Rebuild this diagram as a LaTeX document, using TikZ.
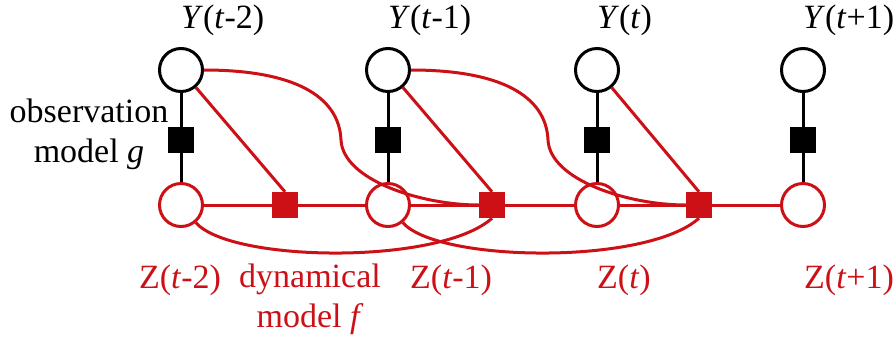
\documentclass[tikz,border=0pt]{standalone}
\usepackage{fontspec}
\setmainfont{Liberation Serif}
\definecolor{dred}{RGB}{204,16,22}
\begin{document}
\begin{tikzpicture}[x=1pt,y=-1pt,
  ycirc/.style={circle, draw=black, line width=3pt, minimum size=43pt, inner sep=0pt},
  zcirc/.style={circle, draw=dred, line width=3pt, minimum size=43pt, inner sep=0pt},
  bsq/.style={rectangle, fill=black, minimum size=26pt, inner sep=0pt},
  rsq/.style={rectangle, fill=dred, minimum size=26pt, inner sep=0pt},
  lab/.style={font=\fontsize{34}{40}\selectfont, inner sep=0pt},
  rlab/.style={lab, text=dred},
  bline/.style={draw=black, line width=3pt},
  rline/.style={draw=dred, line width=3pt}]
\useasboundingbox (0,0) rectangle (893,341);
% nodes
\node[ycirc] (y1) at (181,70) {};
\node[ycirc] (y2) at (388,70) {};
\node[ycirc] (y3) at (597,70) {};
\node[ycirc] (y4) at (803,70) {};
\node[zcirc] (z1) at (181,205) {};
\node[zcirc] (z2) at (388,205) {};
\node[zcirc] (z3) at (597,205) {};
\node[zcirc] (z4) at (803,205) {};
\node[bsq] (b1) at (181,140) {};
\node[bsq] (b2) at (388,140) {};
\node[bsq] (b3) at (597,140) {};
\node[bsq] (b4) at (803,140) {};
\node[rsq] (r1) at (285,205) {};
\node[rsq] (r2) at (492,205) {};
\node[rsq] (r3) at (699,205) {};
\coordinate (m1) at (341,140);
\coordinate (m2) at (548,140);
% labels
\node[lab, anchor=base west] (ly1) at (181,28) {\textit{Y}(\textit{t}-2)};
\node[lab, anchor=base west] (ly2) at (388,28) {\textit{Y}(\textit{t}-1)};
\node[lab, anchor=base west] (ly3) at (597,28) {\textit{Y}(\textit{t})};
\node[lab, anchor=base west] (ly4) at (803,28) {\textit{Y}(\textit{t}+1)};
\node[lab, anchor=base, align=center] (lobs) at (89,162) {observation\\model \textit{g}};
\node[rlab, anchor=base] (lz1) at (180,288) {Z(\textit{t}-2)};
\node[rlab, anchor=base west] (lz2) at (410,288) {Z(\textit{t}-1)};
\node[rlab, anchor=base west] (lz3) at (597,288) {Z(\textit{t})};
\node[rlab, anchor=base west] (lz4) at (804,288) {Z(\textit{t}+1)};
\node[rlab, anchor=base, align=center] (ldyn) at (310,327) {dynamical\\model \textit{f}};
% observation edges
\draw[bline] (y1) -- (b1) -- (z1);
\draw[bline] (y2) -- (b2) -- (z2);
\draw[bline] (y3) -- (b3) -- (z3);
\draw[bline] (y4) -- (b4) -- (z4);
% dynamical chain
\draw[rline] (z1) -- (r1) -- (z2) -- (r2) -- (z3) -- (r3) -- (z4);
\draw[rline] (y1) -- (r1.north);
\draw[rline] (y2) -- (r2.north);
\draw[rline] (y3) -- (r3.north);
\draw[rline] (y1.east) .. controls +(88,0) and +(-2,-45) .. (m1)
  .. controls +(2,40) and +(-58,0) .. (r2.west);
\draw[rline] (y2.east) .. controls +(88,0) and +(-2,-45) .. (m2)
  .. controls +(2,40) and +(-58,0) .. (r3.west);
\draw[rline] (z1.-50) .. controls +(35,40) and +(-52,47) .. (r2.south);
\draw[rline] (z2.-50) .. controls +(35,40) and +(-52,47) .. (r3.south);
\end{tikzpicture}
\end{document}
